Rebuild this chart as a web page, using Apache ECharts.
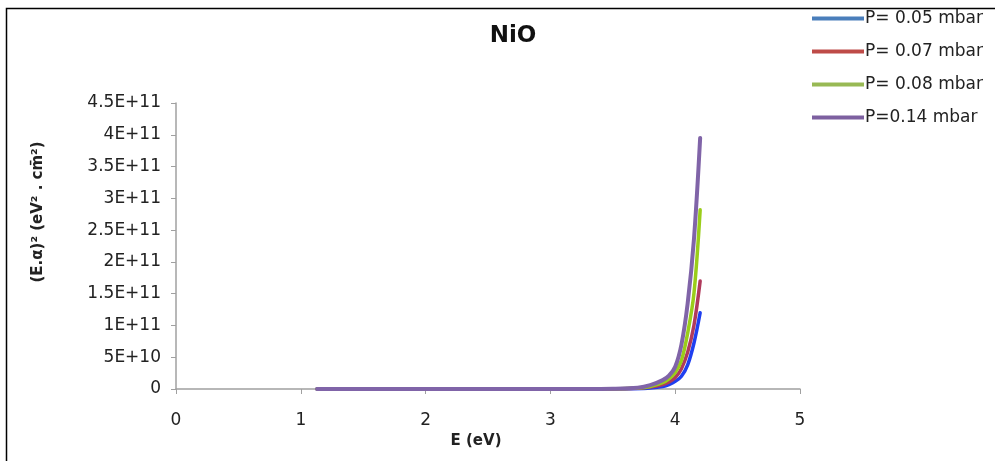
<!DOCTYPE html>
<html>
<head>
<meta charset="utf-8">
<script src="https://cdn.jsdelivr.net/npm/echarts@6/dist/echarts.min.js"></script>
<style>
  html, body { margin: 0; padding: 0; background: #fff; }
  #chart { width: 995px; height: 461px; }
</style>
</head>
<body>
<div id="chart"></div>
<script>
// photon energy E (eV)
const energy = [1.13, 2.0, 3.0, 3.5, 3.7, 3.8, 3.9, 3.95, 4.0, 4.05, 4.1, 4.15, 4.2];
// (E.alpha)^2 in units of 1E+9
const p005 = [0, 0, 0, 0, 0.5, 1.5, 4, 7, 12, 20, 38, 72, 120];
const p007 = [0, 0, 0, 0, 1, 3, 7, 11, 18, 32, 58, 100, 170];
const p008 = [0, 0, 0, 0.3, 1.5, 4, 10, 16, 26, 45, 88, 150, 282];
const p014 = [0, 0, 0, 0.5, 2, 6, 14, 21, 35, 70, 135, 235, 395];

const seriesNames = ["P= 0.05 mbar", "P= 0.07 mbar", "P= 0.08 mbar", "P=0.14 mbar"];
const lineColors = ["#1f3ff0", "#b03a5c", "#9acd1a", "#8064a8"];
const legendColors = ["#4a7ebb", "#be4b48", "#98b954", "#7d60a0"];

const FONT = "DejaVu Sans";
const myChart = echarts.init(document.getElementById("chart"));

const toPairs = (vals) => energy.map((x, i) => [x, vals[i] * 1e9]);

const fmtSci = (v) => {
  if (v === 0) return "0";
  const exp = Math.floor(Math.log10(v) + 1e-9);
  const mant = Math.round((v / Math.pow(10, exp)) * 10) / 10;
  return mant + "E+" + exp;
};

myChart.setOption({
  animation: false,
  title: {
    text: "NiO",
    left: 508,
    textAlign: "center",
    top: 20,
    textStyle: { fontFamily: FONT, fontSize: 23, fontWeight: "bold", color: "#111" },
  },
  legend: {
    orient: "vertical",
    left: 807,
    top: 5,
    itemWidth: 52,
    itemHeight: 4,
    itemGap: 16,
    icon: "rect",
    textStyle: { fontFamily: FONT, fontSize: 17, color: "#222", padding: [0, 0, 0, -4] },
    data: seriesNames.map((n, i) => ({ name: n, itemStyle: { color: legendColors[i] } })),
  },
  graphic: [
    {
      type: "rect",
      left: 4,
      top: 6,
      shape: { width: 1010, height: 480 },
      style: { fill: "none", stroke: "#000", lineWidth: 1.5 },
      silent: true,
    },
  ],
  grid: { left: 176, right: 195, top: 103, bottom: 72, containLabel: false },
  xAxis: {
    type: "value",
    min: 0,
    max: 5,
    interval: 1,
    name: "E (eV)",
    nameLocation: "middle",
    nameGap: 44,
    nameTextStyle: { fontFamily: FONT, fontSize: 15, fontWeight: "bold", color: "#222", padding: [0, 24, 0, 0] },
    axisLine: { lineStyle: { color: "#a0a0a0", width: 1.5 } },
    axisTick: { show: true, length: 5, lineStyle: { color: "#a0a0a0" } },
    splitLine: { show: false },
    axisLabel: { fontFamily: FONT, fontSize: 17, color: "#222", margin: 23 },
  },
  yAxis: {
    type: "value",
    min: 0,
    max: 4.5e11,
    interval: 5e10,
    name: "(E.α)² (eV² . cm̄²)",
    nameLocation: "middle",
    nameRotate: 90,
    nameGap: 130,
    nameTextStyle: { fontFamily: FONT, fontSize: 15, fontWeight: "bold", color: "#222", padding: [0, 0, 0, 68] },
    axisLine: { show: true, lineStyle: { color: "#a0a0a0", width: 1.5 } },
    axisTick: { show: true, length: 5, lineStyle: { color: "#a0a0a0" } },
    splitLine: { show: false },
    axisLabel: { fontFamily: FONT, fontSize: 17, color: "#222", margin: 15, formatter: fmtSci },
  },
  series: [p005, p007, p008, p014].map((vals, i) => ({
    name: seriesNames[i],
    type: "line",
    data: toPairs(vals),
    smooth: 0.35,
    showSymbol: false,
    lineStyle: { color: lineColors[i], width: i === 3 ? 4 : 3.5, cap: "round" },
    itemStyle: { color: lineColors[i] },
    z: 2 + i,
  })),
});
</script>
</body>
</html>
